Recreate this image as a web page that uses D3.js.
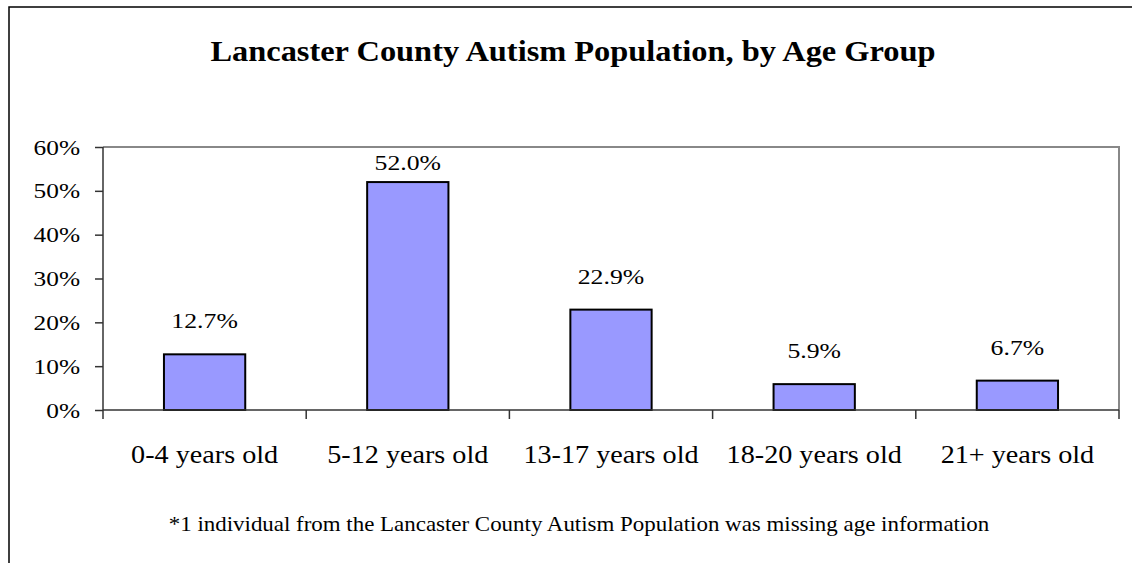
<!DOCTYPE html>
<html>
<head>
<meta charset="utf-8">
<script src="https://cdn.jsdelivr.net/npm/d3@7"></script>
<style>
  html, body { margin: 0; padding: 0; background: #fff; }
  svg { display: block; }
  text { font-family: "Palatino Linotype", "Book Antiqua", Palatino, "Liberation Serif", serif; fill: #000; }
</style>
</head>
<body>
<svg id="chart" width="1132" height="563"></svg>
<script>
const categories = ["0-4 years old", "5-12 years old", "13-17 years old", "18-20 years old", "21+ years old"];
const values = [12.7, 52.0, 22.9, 5.9, 6.7];
const yTicks = [0, 10, 20, 30, 40, 50, 60];
const valueLabels = ["12.7%", "52.0%", "22.9%", "5.9%", "6.7%"];
const title = "Lancaster County Autism Population, by Age Group";
const footnote = "*1 individual from the Lancaster County Autism Population was missing age information";

const W = 1132, H = 563;
const svg = d3.select("#chart");

const plot = { left: 103, right: 1119, top: 147, bottom: 410 };

const x = d3.scaleBand().domain(categories).range([plot.left, plot.right]).padding(0);
const y = d3.scaleLinear().domain([0, 60]).range([plot.bottom, plot.top]);
const barW = x.bandwidth() * 0.4;

// the original type is a wide book face; Liberation Serif is widened to match
function stext(g, tx, ty, str, size, anchor, stretch, weight) {
  return g.append("text")
    .attr("transform", `translate(${tx},${ty}) scale(${stretch},1)`)
    .attr("text-anchor", anchor)
    .attr("font-size", size)
    .attr("font-weight", weight || "normal")
    .text(str);
}

// outer frame
svg.append("path")
  .attr("d", `M9,${H + 5} L9,7 L${W + 5},7`)
  .attr("fill", "none").attr("stroke", "#000").attr("stroke-width", 1.5);

// title
stext(svg, 573, 61, title, 30, "middle", 1.08, "bold");

// plot border (gray top/right)
svg.append("path")
  .attr("d", `M${plot.left},${plot.top} L${plot.right},${plot.top} L${plot.right},${plot.bottom}`)
  .attr("fill", "none").attr("stroke", "#888").attr("stroke-width", 2);

// bars
svg.append("g").selectAll("rect").data(values).join("rect")
  .attr("x", (d, i) => x(categories[i]) + (x.bandwidth() - barW) / 2)
  .attr("y", d => y(d))
  .attr("width", barW)
  .attr("height", d => y(0) - y(d))
  .attr("fill", "#9999FF")
  .attr("stroke", "#000")
  .attr("stroke-width", 2);

// y axis
const yAxis = svg.append("g").attr("transform", `translate(${plot.left},0)`)
  .call(d3.axisLeft(y).tickValues(yTicks).tickSize(8).tickFormat(""));
yAxis.select(".domain").remove();
yAxis.selectAll(".tick line").attr("stroke", "#333").attr("stroke-width", 1.5);
svg.append("line").attr("x1", plot.left).attr("x2", plot.left)
  .attr("y1", plot.top).attr("y2", plot.bottom + 9)
  .attr("stroke", "#333").attr("stroke-width", 1.5);
const ytl = svg.append("g");
yTicks.forEach(t => {
  stext(ytl, 80, y(t) + 7.5, t + "%", 21.5, "end", 1.18);
});

// x axis
svg.append("line").attr("x1", plot.left).attr("x2", plot.right)
  .attr("y1", plot.bottom).attr("y2", plot.bottom)
  .attr("stroke", "#333").attr("stroke-width", 1.5);
const bounds = categories.map(c => x(c)).concat([plot.right]);
svg.append("g").selectAll("line").data(bounds.slice(1)).join("line")
  .attr("x1", d => d).attr("x2", d => d)
  .attr("y1", plot.bottom).attr("y2", plot.bottom + 9)
  .attr("stroke", "#333").attr("stroke-width", 1.5);
const xtl = svg.append("g");
categories.forEach(c => {
  stext(xtl, x(c) + x.bandwidth() / 2, 463, c, 24.5, "middle", 1.15);
});

// value labels
const vl = svg.append("g");
values.forEach((v, i) => {
  const ly = Math.max(y(v) - 26, plot.top + 23);
  stext(vl, x(categories[i]) + x.bandwidth() / 2, ly, valueLabels[i], 22, "middle", 1.17);
});

// footnote
stext(svg, 579, 531, footnote, 20.3, "middle", 1.13);
</script>
</body>
</html>
